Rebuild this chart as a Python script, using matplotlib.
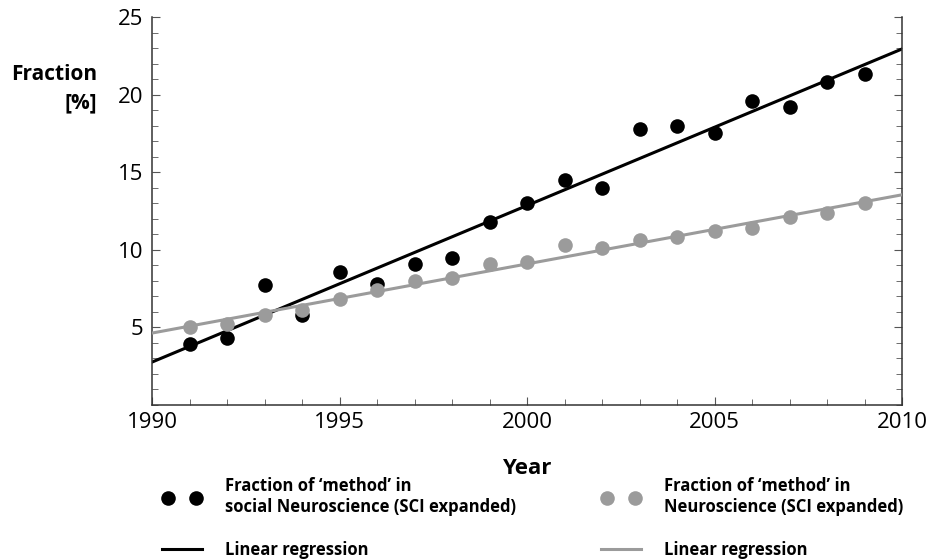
import numpy as np
import matplotlib
matplotlib.use("Agg")
import matplotlib.pyplot as plt
from matplotlib.ticker import MultipleLocator
from matplotlib.legend_handler import HandlerLine2D

plt.rcParams['font.family'] = ['Open Sans', 'DejaVu Sans']

years = np.arange(1991, 2010)
social_neuro = [3.9, 4.3, 7.7, 5.8, 8.6, 7.8, 9.1, 9.5, 11.8, 13.0,
                14.5, 14.0, 17.8, 18.0, 17.5, 19.6, 19.2, 20.8, 21.3]
neuro = [5.0, 5.2, 5.8, 6.1, 6.8, 7.4, 8.0, 8.2, 9.1, 9.2,
         10.3, 10.1, 10.6, 10.8, 11.2, 11.4, 12.1, 12.4, 13.0]

label_social = "Fraction of \u2018method\u2019 in\nsocial Neuroscience (SCI expanded)"
label_neuro = "Fraction of \u2018method\u2019 in\nNeuroscience (SCI expanded)"
label_fit = "Linear regression"

black = "#000000"
grey = "#9b9b9b"
x_range = (1990, 2010)

fig = plt.figure(figsize=(9.29, 5.60), dpi=100)
ax = fig.add_axes([152 / 929, 1 - 405 / 560, 750 / 929, 388 / 560])

# regression lines over the full x range
xfit = np.array(x_range)
k1, b1 = np.polyfit(years, social_neuro, 1)
k2, b2 = np.polyfit(years, neuro, 1)

fit1, = ax.plot(xfit, k1 * xfit + b1, color=black, lw=2.2, zorder=2)
pts1, = ax.plot(years, social_neuro, 'o', color=black, ms=10.5, mec='none', zorder=3)
fit2, = ax.plot(xfit, k2 * xfit + b2, color=grey, lw=2.2, zorder=4)
pts2, = ax.plot(years, neuro, 'o', color=grey, ms=10.5, mec='none', zorder=5)

ax.set_xlim(*x_range)
ax.set_ylim(0, 25)
ax.xaxis.set_major_locator(MultipleLocator(5))
ax.xaxis.set_minor_locator(MultipleLocator(1))
ax.yaxis.set_major_locator(MultipleLocator(5))
ax.yaxis.set_minor_locator(MultipleLocator(1))
ax.set_yticks([5, 10, 15, 20, 25])

ax.spines['top'].set_visible(False)
for s in ('left', 'right', 'bottom'):
    ax.spines[s].set_linewidth(1.1)
    ax.spines[s].set_color('#333333')

ax.tick_params(which='both', direction='in', right=True, top=False, color='#555555')
ax.tick_params(which='major', length=6, width=0.8, labelsize=16)
ax.tick_params(which='minor', length=4, width=0.6)
ax.tick_params(axis='y', pad=6)
ax.tick_params(axis='x', pad=5)

ax.set_xlabel("Year", fontsize=16, fontweight='bold', labelpad=18)
fig.text(97 / 929, 1 - 75 / 560, "Fraction", ha='right', va='center',
         fontsize=15, fontweight='bold')
fig.text(97 / 929, 1 - 103 / 560, "[%]", ha='right', va='center',
         fontsize=15, fontweight='bold')

hmap = {pts1: HandlerLine2D(marker_pad=0.66), pts2: HandlerLine2D(marker_pad=0.66)}
common = dict(frameon=False, numpoints=2, handlelength=3.0, handletextpad=1.08,
              labelspacing=1.5, loc='upper left', handler_map=hmap,
              prop={'weight': 'bold', 'size': 12})

leg1 = fig.legend([pts1, fit1], [label_social, label_fit],
                  bbox_to_anchor=(142 / 929, 1 - 462 / 560), **common)
leg2 = fig.legend([pts2, fit2], [label_neuro, label_fit],
                  bbox_to_anchor=(581 / 929, 1 - 462 / 560), **common)

fig.savefig("out.png", dpi=100)
